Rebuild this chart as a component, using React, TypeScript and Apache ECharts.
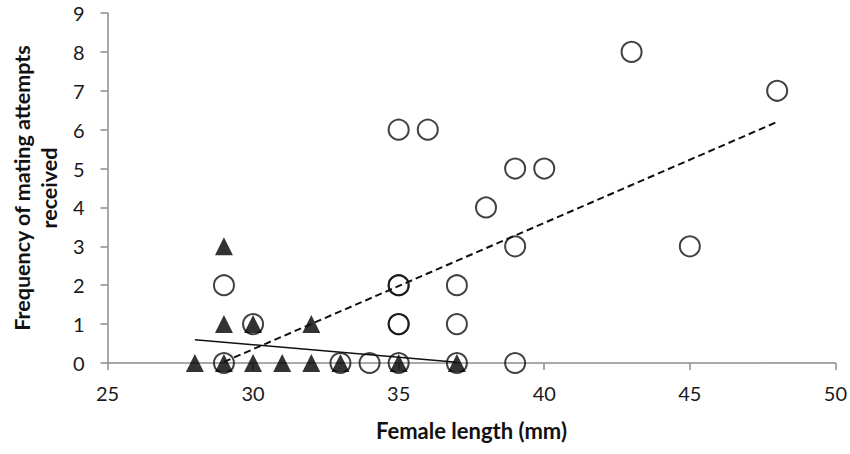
import React, { useEffect, useRef } from "react";
import * as echarts from "echarts";

const circleX = [29, 29, 30, 33, 34, 35, 35, 35, 35, 35, 35, 36, 37, 37, 37, 38, 39, 39, 39, 40, 43, 45, 48];
const circleY = [2, 0, 1, 0, 0, 6, 2, 2, 1, 1, 0, 6, 2, 1, 0, 4, 5, 3, 0, 5, 8, 3, 7];

const triangleX = [28, 29, 29, 29, 30, 30, 31, 32, 32, 33, 35, 37];
const triangleY = [0, 0, 1, 3, 1, 0, 0, 0, 1, 0, 0, 0];

const dashedTrendX = [29, 48];
const dashedTrendY = [0.03, 6.2];
const solidTrendX = [28, 37];
const solidTrendY = [0.6, 0.02];

const xTitle = "Female length (mm)";
const yTitle = "Frequency of mating attempts\nreceived";

const pairs = (xs: number[], ys: number[]) => xs.map((x, i) => [x, ys[i]]);

export default function App() {
  const ref = useRef<HTMLDivElement>(null);
  useEffect(() => {
    if (!ref.current) return;
    const chart = echarts.init(ref.current, null, { renderer: "svg" });
    const font = "Lato, 'Open Sans', sans-serif";
    const axisLine = { show: true, lineStyle: { color: "#8c8c8c", width: 1.5 } };
    const axisTick = { show: true, length: 7, lineStyle: { color: "#8c8c8c", width: 1.5 } };
    chart.setOption({
      animation: false,
      backgroundColor: "#ffffff",
      grid: { left: 100, right: 14, top: 13, bottom: 91, containLabel: false },
      xAxis: {
        type: "value",
        min: 25,
        max: 50,
        interval: 5,
        name: xTitle,
        nameLocation: "middle",
        nameGap: 54,
        nameTextStyle: { fontFamily: font, fontWeight: "bold", fontSize: 22, color: "#111", lineHeight: 26 },
        axisLine,
        axisTick,
        splitLine: { show: false },
        axisLabel: { fontFamily: font, fontSize: 20, color: "#1a1a1a", margin: 20, lineHeight: 20 },
      },
      yAxis: {
        type: "value",
        min: 0,
        max: 9,
        interval: 1,
        name: yTitle,
        nameLocation: "middle",
        nameRotate: 90,
        nameGap: 44,
        nameTextStyle: { fontFamily: font, fontWeight: "bold", fontSize: 21.5, color: "#111", lineHeight: 27 },
        axisLine,
        axisTick,
        splitLine: { show: false },
        axisLabel: { fontFamily: font, fontSize: 20, color: "#1a1a1a", margin: 23 },
      },
      series: [
        {
          type: "scatter",
          data: pairs(circleX, circleY),
          symbol: "circle",
          symbolSize: 20,
          itemStyle: { color: "rgba(255,255,255,0)", borderColor: "#111", borderWidth: 2 },
          z: 2,
        },
        {
          type: "scatter",
          data: pairs(triangleX, triangleY),
          symbol: "triangle",
          symbolSize: 18,
          itemStyle: { color: "#000" },
          z: 3,
        },
        {
          type: "line",
          data: pairs(dashedTrendX, dashedTrendY),
          showSymbol: false,
          symbol: "none",
          lineStyle: { color: "#111", width: 2, type: [7, 4] },
          z: 4,
        },
        {
          type: "line",
          data: pairs(solidTrendX, solidTrendY),
          showSymbol: false,
          symbol: "none",
          lineStyle: { color: "#111", width: 1.5 },
          z: 4,
        },
      ],
    });
    return () => chart.dispose();
  }, []);
  return (
    <div
      ref={ref}
      style={{ position: "fixed", left: 0, top: 0, width: 850, height: 454, background: "#fff" }}
    />
  );
}
